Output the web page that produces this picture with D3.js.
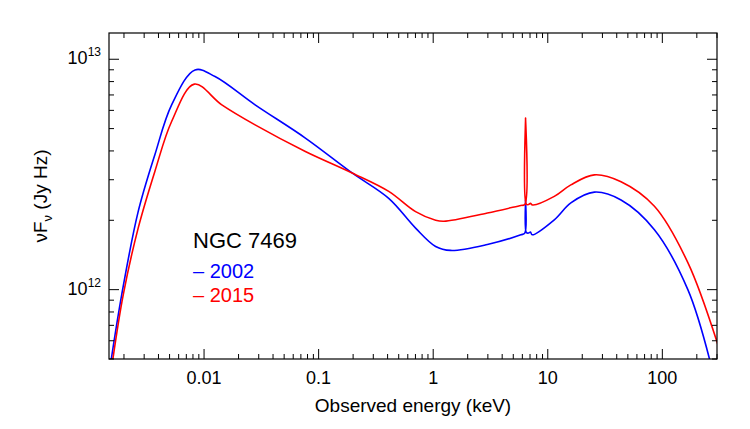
<!DOCTYPE html>
<html><head><meta charset="utf-8">
<script src="https://cdn.jsdelivr.net/npm/d3@7"></script>
<style>body{margin:0;background:#fff}text{font-family:"Liberation Sans",Arial,sans-serif}</style>
</head><body><svg id="c" width="750" height="429"></svg>
<script>
// energies in keV, flux in units of 1e12 Jy Hz
const blueE = [0.00155,0.00191,0.00266,0.00372,0.00521,0.00834,0.01247,0.0279,0.0766,0.196,0.409,0.702,1.05,1.42,2.97,5.82,6.30,6.40,6.50,6.8,7.06,7.3,11.4,15.9,25.5,43.6,85.3,167,258];
const blueF = [0.50,0.95,2.18,3.85,6.34,8.99,8.41,6.34,4.55,3.21,2.49,1.85,1.54,1.48,1.57,1.73,1.76,2.45,1.77,1.76,1.78,1.73,2.01,2.38,2.65,2.45,1.82,1.00,0.50];
const redE = [0.0016,0.00197,0.00266,0.00372,0.00521,0.00822,0.01429,0.0279,0.0766,0.196,0.409,0.702,1.05,1.24,2.97,5.82,6.30,6.40,6.50,6.8,7.06,7.36,11.4,15.9,25.5,43.6,85.3,167,305];
const redF = [0.50,0.95,1.85,3.26,5.37,7.80,6.34,5.19,3.98,3.21,2.67,2.18,2.00,1.98,2.15,2.32,2.34,5.55,2.35,2.34,2.37,2.33,2.54,2.85,3.15,2.94,2.30,1.31,0.578];
const xTicks = [0.01,0.1,1,10,100];
const xTickLabels = ["0.01","0.1","1","10","100"];
const yTicks = [1e12,1e13];
const yTickExp = ["12","13"];
const years = ["2002","2015"];
const colors = ["#0000ff","#ff0000"];

const svg = d3.select("#c");
const L=109,R=717,T=33,B=359;
const x = d3.scaleLog().domain([0.00148,300]).range([L,R]);
const y = d3.scaleLog().domain([0.5e12,1.3e13]).range([B,T]);
const g = svg.append("g");
g.append("defs").append("clipPath").attr("id","cl").append("rect").attr("x",L).attr("y",T).attr("width",R-L).attr("height",B-T);

const line = d3.line().x(d=>x(d[0])).y(d=>y(d[1]*1e12)).curve(d3.curveCatmullRom.alpha(0.5));
[[blueE,blueF],[redE,redF]].forEach((s,i)=>{
  g.append("path").attr("clip-path","url(#cl)").attr("d",line(d3.zip(s[0],s[1])))
   .attr("fill","none").attr("stroke",colors[i]).attr("stroke-width",1.6);
});

g.append("rect").attr("x",L).attr("y",T).attr("width",R-L).attr("height",B-T).attr("fill","none").attr("stroke","#000").attr("stroke-width",1.2);

const xMinor=[];
for(let d=-3;d<=2;d++)for(let k=1;k<=9;k++){const v=k*Math.pow(10,d);if(v>=0.00148&&v<=300)xMinor.push(v);}
xMinor.forEach(v=>{
  const major=xTicks.some(t=>Math.abs(t-v)/t<1e-6);const len=major?10:5;const px=x(v);
  g.append("line").attr("x1",px).attr("x2",px).attr("y1",B).attr("y2",B-len).attr("stroke","#000");
  g.append("line").attr("x1",px).attr("x2",px).attr("y1",T).attr("y2",T+len).attr("stroke","#000");
});
xTicks.forEach((v,i)=>g.append("text").attr("x",x(v)).attr("y",B+25).attr("text-anchor","middle").attr("font-size",18).text(xTickLabels[i]));

const yMinor=[];
for(let d=11;d<=13;d++)for(let k=1;k<=9;k++){const v=k*Math.pow(10,d);if(v>=0.5e12&&v<=1.3e13)yMinor.push(v);}
yMinor.forEach(v=>{
  const major=yTicks.some(t=>Math.abs(t-v)/t<1e-6);const len=major?10:5;const py=y(v);
  g.append("line").attr("x1",L).attr("x2",L+len).attr("y1",py).attr("y2",py).attr("stroke","#000");
  g.append("line").attr("x1",R).attr("x2",R-len).attr("y1",py).attr("y2",py).attr("stroke","#000");
});
yTicks.forEach((v,i)=>{
  const t=g.append("text").attr("x",L-8).attr("y",y(v)+5).attr("text-anchor","end").attr("font-size",18);
  t.append("tspan").text("10");
  t.append("tspan").attr("font-size",12).attr("dy",-8).text(yTickExp[i]);
});

g.append("text").attr("x",(L+R)/2).attr("y",412).attr("text-anchor","middle").attr("font-size",19).text("Observed energy (keV)");
const yt=g.append("text").attr("transform","translate(47,196) rotate(-90)").attr("text-anchor","middle").attr("font-size",19);
yt.append("tspan").text("νF");
yt.append("tspan").attr("font-size",13).attr("dy",5).text("ν");
yt.append("tspan").attr("dy",-5).text(" (Jy Hz)");

g.append("text").attr("x",193).attr("y",248).attr("font-size",22).text("NGC 7469");
years.forEach((yr,i)=>g.append("text").attr("x",193).attr("y",278+i*24).attr("font-size",20).attr("fill",colors[i]).text("– "+yr));
</script></body></html>
